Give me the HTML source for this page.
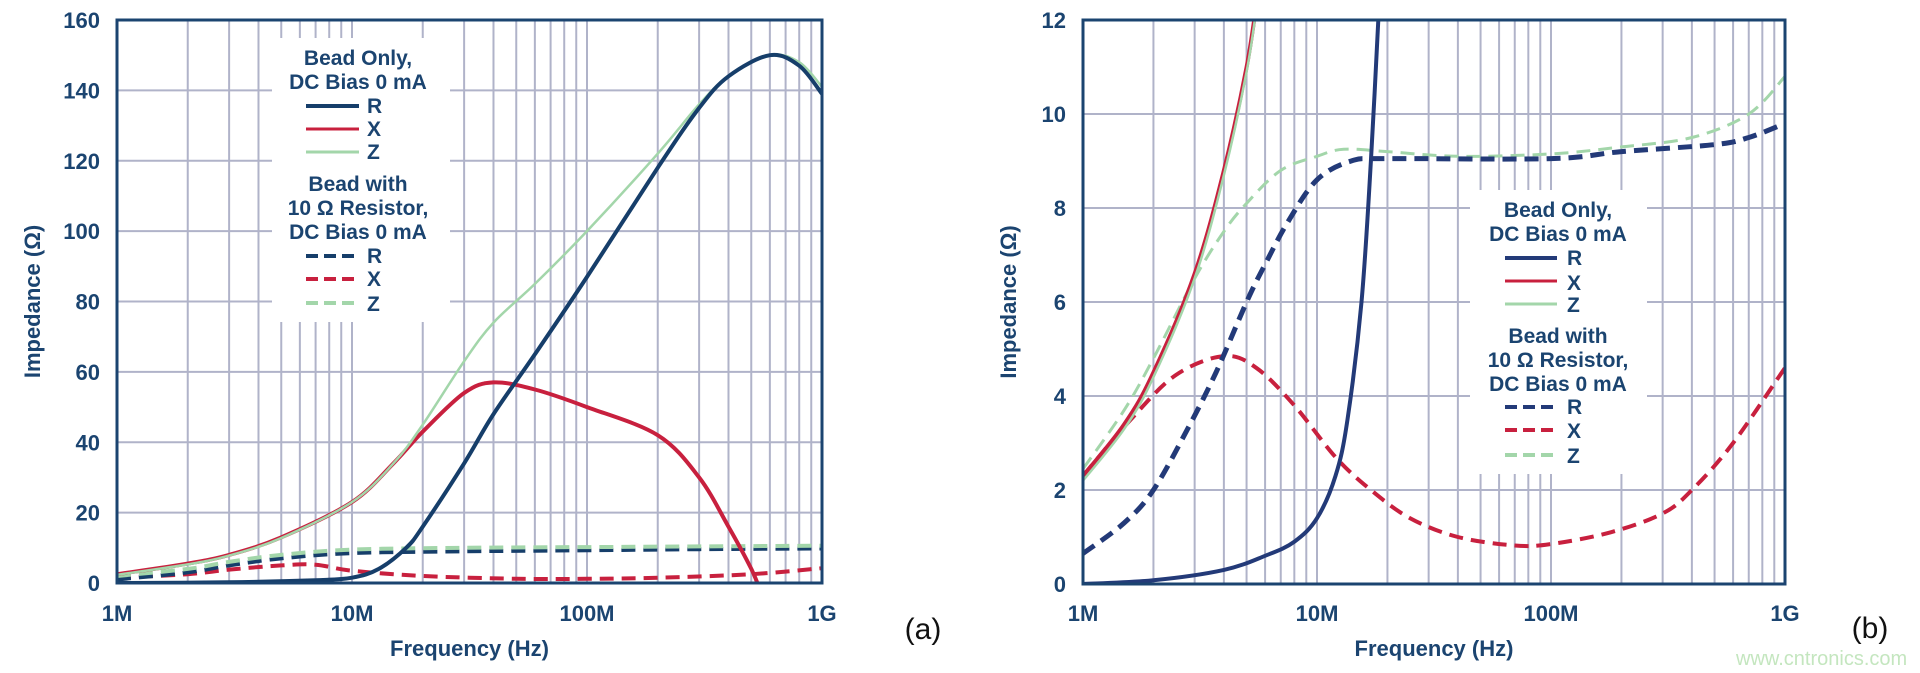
<!DOCTYPE html>
<html><head><meta charset="utf-8"><style>
html,body{margin:0;padding:0;background:#fff;}
svg{display:block;}
text{font-family:"Liberation Sans",Arial,sans-serif;}
</style></head><body>
<svg id="s" width="1920" height="673" xmlns="http://www.w3.org/2000/svg">
<defs>
<clipPath id="ca"><rect x="117" y="20" width="705" height="563"/></clipPath>
<clipPath id="cb"><rect x="1083" y="20" width="702" height="564"/></clipPath>
</defs>
<g id="grid"></g>
<rect x="272" y="38" width="178" height="284" fill="#fff"/>
<rect x="1470" y="190" width="177" height="284" fill="#fff"/>
<g id="curves"></g>
<g id="axes" fill="none" stroke="#1b4470" stroke-width="3">
<rect x="117" y="20" width="705" height="563"/>
<rect x="1083" y="20" width="702" height="564"/>
</g>
<g id="labels" fill="#1b4470" font-weight="bold" font-size="22"></g>
<g fill="#1b4470" font-weight="bold" font-size="21" text-anchor="middle">
<text x="358" y="65">Bead Only,</text>
<text x="358" y="89">DC Bias 0 mA</text>
<text x="358" y="191">Bead with</text>
<text x="358" y="215">10 Ω Resistor,</text>
<text x="358" y="239">DC Bias 0 mA</text>
<text x="1558" y="217">Bead Only,</text>
<text x="1558" y="241">DC Bias 0 mA</text>
<text x="1558" y="343">Bead with</text>
<text x="1558" y="367">10 Ω Resistor,</text>
<text x="1558" y="391">DC Bias 0 mA</text>
</g>
<g fill="#1b4470" font-weight="bold" font-size="21">
<text x="367" y="113">R</text><text x="367" y="136">X</text><text x="367" y="159">Z</text>
<text x="367" y="263">R</text><text x="367" y="286">X</text><text x="367" y="311">Z</text>
<text x="1567" y="265">R</text><text x="1567" y="290">X</text><text x="1567" y="312">Z</text>
<text x="1567" y="414">R</text><text x="1567" y="438">X</text><text x="1567" y="463">Z</text>
</g>
<g stroke-width="4">
<line x1="306" y1="106" x2="359" y2="106" stroke="#163e6a"/>
<line x1="306" y1="129" x2="359" y2="129" stroke="#c8203e" stroke-width="3"/>
<line x1="306" y1="152" x2="359" y2="152" stroke="#a3d6aa" stroke-width="3"/>
<line x1="306" y1="256" x2="359" y2="256" stroke="#163e6a" stroke-dasharray="12 6"/>
<line x1="306" y1="279" x2="359" y2="279" stroke="#c8203e" stroke-dasharray="12 6"/>
<line x1="306" y1="303" x2="359" y2="303" stroke="#a3d6aa" stroke-dasharray="12 6"/>
<line x1="1505" y1="258" x2="1557" y2="258" stroke="#233a78"/>
<line x1="1505" y1="281" x2="1557" y2="281" stroke="#c8203e" stroke-width="3"/>
<line x1="1505" y1="304" x2="1557" y2="304" stroke="#a3d6aa" stroke-width="3"/>
<line x1="1505" y1="407" x2="1557" y2="407" stroke="#233a78" stroke-dasharray="12 6"/>
<line x1="1505" y1="430" x2="1557" y2="430" stroke="#c8203e" stroke-dasharray="12 6"/>
<line x1="1505" y1="455" x2="1557" y2="455" stroke="#a3d6aa" stroke-dasharray="12 6"/>
</g>
<text x="923" y="639" font-size="30" fill="#111" text-anchor="middle">(a)</text>
<text x="1870" y="638" font-size="30" fill="#111" text-anchor="middle">(b)</text>
<text x="1736" y="665" font-size="20" fill="#c4e6bf">www.cntronics.com</text>
</svg>
<script>
var NS="http://www.w3.org/2000/svg";
function el(p,n,a,t){var e=document.createElementNS(NS,n);for(var k in a)e.setAttribute(k,a[k]);if(t!==undefined)e.textContent=t;p.appendChild(e);return e;}
var grid=document.getElementById('grid'),cur=document.getElementById('curves'),lab=document.getElementById('labels');
var C=[{x0:117,x1:822,y0:583,y1:20,vmax:160,step:20,clip:'ca'},
       {x0:1083,x1:1785,y0:584,y1:20,vmax:12,step:2,clip:'cb'}];
C.forEach(function(c,ci){
 var dw=(c.x1-c.x0)/3;
 function X(t){return c.x0+t*dw;}
 for(var d=0;d<3;d++)for(var m=1;m<=10;m++){
   if(d==0&&m==1)continue; if(m==10&&d==2)continue;
   var x=X(d+Math.log10(m));
   el(grid,'line',{x1:x,y1:c.y1,x2:x,y2:c.y0,stroke:'#b0b3c9','stroke-width':2});
 }
 for(var v=0;v<=c.vmax;v+=c.step){
   var y=c.y0+(c.y1-c.y0)*v/c.vmax;
   if(v>0&&v<c.vmax)el(grid,'line',{x1:c.x0,y1:y,x2:c.x1,y2:y,stroke:'#b0b3c9','stroke-width':2});
   el(lab,'text',{x:c.x0-17,y:y+8,'text-anchor':'end'},String(v));
 }
 ['1M','10M','100M','1G'].forEach(function(s,i){el(lab,'text',{x:X(i),y:621,'text-anchor':'middle'},s);});
 el(lab,'text',{x:(c.x0+c.x1)/2,y:656,'text-anchor':'middle'},'Frequency (Hz)');
 var tx=ci==0?40:1016, ty=(c.y0+c.y1)/2;
 el(lab,'text',{x:tx,y:ty,'text-anchor':'middle',transform:'rotate(-90 '+tx+' '+ty+')'},'Impedance (Ω)');
});
function path(c,pts){
 var dw=(c.x1-c.x0)/3;
 var P=pts.map(function(p){return [c.x0+Math.log10(p[0])*dw, c.y0+(c.y1-c.y0)*p[1]/c.vmax];});
 var d='M'+P[0][0].toFixed(1)+' '+P[0][1].toFixed(1);
 for(var i=0;i<P.length-1;i++){
  var p0=P[Math.max(0,i-1)],p1=P[i],p2=P[i+1],p3=P[Math.min(P.length-1,i+2)];
  var c1=[p1[0]+(p2[0]-p0[0])/6,p1[1]+(p2[1]-p0[1])/6];
  var c2=[p2[0]-(p3[0]-p1[0])/6,p2[1]-(p3[1]-p1[1])/6];
  d+=' C'+c1[0].toFixed(1)+' '+c1[1].toFixed(1)+' '+c2[0].toFixed(1)+' '+c2[1].toFixed(1)+' '+p2[0].toFixed(1)+' '+p2[1].toFixed(1);
 }
 return d;
}
var NAVY='#163e6a',RED='#c8203e',GRN='#a3d6aa',NAVY2='#233a78';
function draw(ci,pts,col,w,dash){
 var c=C[ci];var g=el(cur,'g',{'clip-path':'url(#'+c.clip+')'});
 var a={d:path(c,pts),fill:'none',stroke:col,'stroke-width':w,'stroke-linejoin':'round'};
 if(dash)a['stroke-dasharray']=dash;
 el(g,'path',a);
}
draw(0,[[1,1.5],[2,2.5],[3,3.8],[5,5],[7,5.2],[10,3.5],[20,2],[50,1.2],[100,1.2],[200,1.5],[500,2.5],[1000,4.2]],RED,4,'14 8');
draw(0,[[1,1],[2,3],[3,5],[5,7],[10,8.5],[30,9],[100,9.3],[300,9.6],[1000,9.8]],NAVY,4,'14 8');
draw(0,[[1,2],[2,4],[3,6],[5,8],[10,9.5],[30,10],[100,10.2],[300,10.4],[1000,10.6]],GRN,4,'14 8');
draw(0,[[1,2.5],[2,5.5],[3,8],[5,13],[10,23],[15,34],[20,43],[30,54],[40,57],[60,55],[100,50],[200,42],[300,30],[400,16],[500,4],[560,-4]],RED,4);
draw(0,[[1,2.3],[2,5.3],[3,7.8],[5,12.8],[10,23],[15,34],[20,45],[30,63],[40,74],[60,85],[100,100],[200,122],[300,136],[400,144],[600,150],[800,148],[1000,141]],GRN,2.5);
draw(0,[[1,0],[3,0.2],[7,0.8],[10,1.5],[13,4],[17,10],[20,16],[30,34],[40,48],[60,65],[100,87],[200,118],[300,135],[400,144],[600,150],[800,147],[1000,139]],NAVY,4);
draw(1,[[1,2.3],[1.6,3.5],[2.5,4.45],[4,4.85],[5.5,4.6],[8,3.8],[12,2.7],[17,2],[25,1.4],[40,1],[70,0.82],[100,0.85],[180,1.1],[300,1.5],[400,2],[600,3],[1000,4.6]],RED,4,'14 8');
draw(1,[[1,2.45],[1.5,3.7],[2,4.8],[3,6.5],[4,7.5],[5,8.1],[7,8.8],[10,9.1],[13,9.25],[20,9.2],[40,9.1],[100,9.15],[200,9.3],[400,9.5],[700,10],[1000,10.8]],GRN,3,'14 8');
draw(1,[[1,0.65],[1.5,1.3],[2,2],[2.8,3.3],[3.7,4.5],[5,6],[6,6.8],[7.5,7.7],[10,8.6],[14,9],[20,9.05],[100,9.05],[200,9.2],[500,9.35],[700,9.5],[1000,9.8]],NAVY2,5,'14 8');
draw(1,[[1,2.3],[1.5,3.4],[2,4.5],[3,6.6],[4,8.8],[5,11],[5.6,12.6]],RED,4);
draw(1,[[1,2.2],[1.5,3.3],[2,4.4],[3,6.5],[4,8.7],[5,10.9],[5.6,12.5]],GRN,2.5);
draw(1,[[1,0],[2,0.08],[4,0.3],[6,0.6],[8,0.9],[10,1.4],[12,2.3],[13.5,3.5],[15.5,6],[17,9],[18.5,12.5]],NAVY2,4);
</script>
</body></html>
